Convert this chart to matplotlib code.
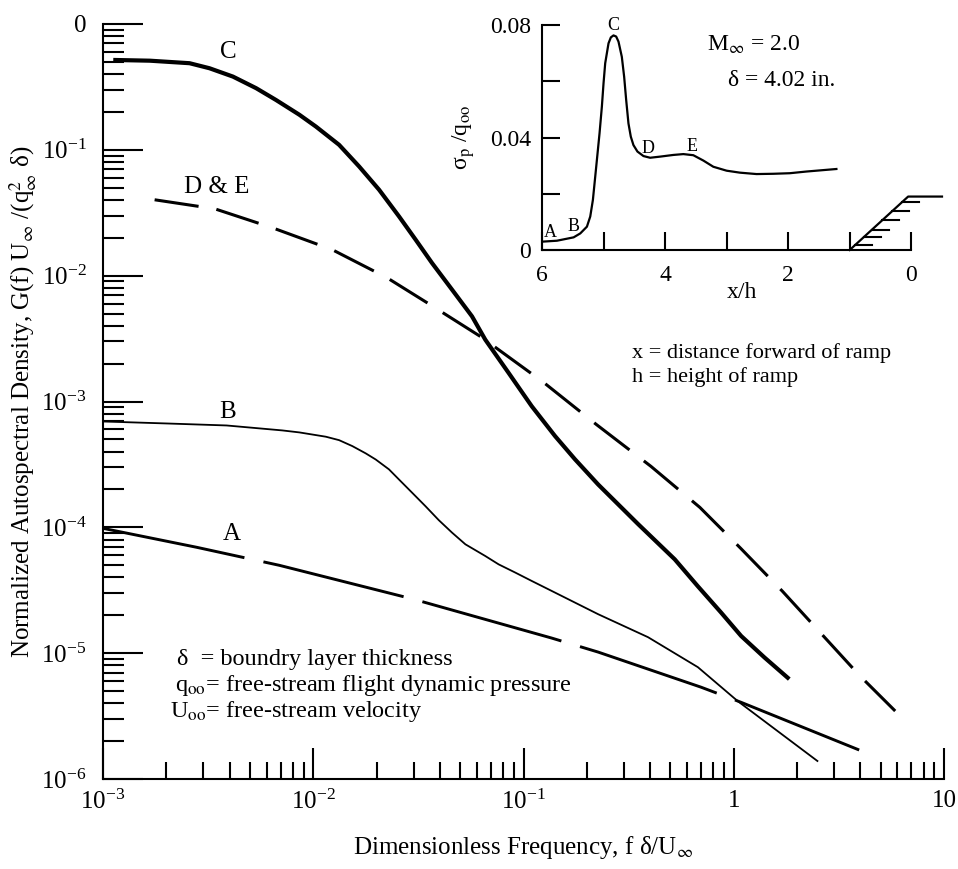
import matplotlib
matplotlib.use("Agg")
import matplotlib.pyplot as plt
from matplotlib.ticker import LogLocator, NullFormatter

# ---- main plot: normalized autospectral density vs. f*delta/U ----
# curve C (thick solid)
c_f = [0.001119, 0.00167, 0.00258, 0.00321, 0.00415, 0.00535, 0.00665, 0.00859, 0.0103,
       0.01327, 0.01652, 0.02056, 0.02557, 0.0307, 0.0367, 0.0457, 0.0569, 0.0658,
       0.0849, 0.1094, 0.1413, 0.1758, 0.2265, 0.351, 0.524, 0.675,
       0.871, 1.084, 1.400, 1.837]
c_g = [0.518, 0.511, 0.488, 0.445, 0.382, 0.309, 0.249, 0.190, 0.153,
       0.1096, 0.0738, 0.0482, 0.0296, 0.0193, 0.01262, 0.00775, 0.00475, 0.00310,
       0.00169, 9.18e-4, 5.31e-4, 3.47e-4, 2.19e-4, 1.06e-4, 5.57e-5, 3.40e-5,
       2.10e-5, 1.37e-5, 9.24e-6, 6.22e-6]

# curve D & E (dashed)
de_f = [0.00176, 0.0034, 0.0064, 0.0123, 0.0224, 0.0347, 0.0625, 0.1245,
        0.222, 0.404, 0.690, 1.079, 1.706, 2.70, 3.95, 5.86]
de_g = [0.0401, 0.0340, 0.0240, 0.0161, 0.00964, 0.00611, 0.00328, 0.00142,
        6.57e-4, 3.05e-4, 1.44e-4, 6.81e-5, 3.10e-5, 1.34e-5, 6.69e-6, 3.47e-6]

# curve B (thin solid)
b_f = [0.001, 0.00201, 0.00387, 0.00713, 0.00859, 0.01148, 0.01327, 0.01535, 0.01777,
       0.01982, 0.02291, 0.02557, 0.02957, 0.03421, 0.03955, 0.04571, 0.05292, 0.06577,
       0.07614, 0.09138, 0.1094, 0.1313, 0.2265, 0.391, 0.675, 1.044, 1.618, 2.50]
b_g = [6.94e-4, 6.69e-4, 6.45e-4, 5.89e-4, 5.68e-4, 5.25e-4, 4.93e-4, 4.42e-4, 3.87e-4,
       3.46e-4, 2.89e-4, 2.40e-4, 1.88e-4, 1.47e-4, 1.14e-4, 9.08e-5, 7.33e-5, 5.92e-5,
       5.08e-5, 4.37e-5, 3.75e-5, 3.22e-5, 2.04e-5, 1.34e-5, 7.74e-6, 4.16e-6, 2.40e-6, 1.39e-6]

# curve A (long dashes)
a_f = [0.001, 0.00279, 0.0069, 0.0301, 0.1358, 0.2265, 0.698, 1.079, 3.95]
a_g = [9.82e-5, 6.94e-5, 4.99e-5, 2.68e-5, 1.32e-5, 1.02e-5, 5.37e-6, 4.08e-6, 1.70e-6]

x_ticks = [1e-3, 1e-2, 1e-1, 1, 10]
x_labels = [r'$\mathregular{10^{-3}}$', r'$\mathregular{10^{-2}}$', r'$\mathregular{10^{-1}}$', '1', '10']
y_ticks = [1e-6, 1e-5, 1e-4, 1e-3, 1e-2, 1e-1, 1]
y_labels = [r'$\mathregular{10^{-6}}$', r'$\mathregular{10^{-5}}$', r'$\mathregular{10^{-4}}$',
            r'$\mathregular{10^{-3}}$', r'$\mathregular{10^{-2}}$', r'$\mathregular{10^{-1}}$', '0']

# ---- inset: sigma_p/q along the ramp ----
xh = [5.973, 5.757, 5.486, 5.378, 5.270, 5.216, 5.173, 5.119, 5.065, 5.027, 5.000,
      4.973, 4.919, 4.881, 4.838, 4.795, 4.757, 4.703, 4.665, 4.632, 4.595, 4.557,
      4.514, 4.449, 4.351, 4.243, 4.081, 3.865, 3.703, 3.541, 3.378, 3.216, 3.000,
      2.784, 2.514, 2.243, 1.973, 1.703, 1.216]
sig = [0.0030, 0.0033, 0.0045, 0.0059, 0.0083, 0.0119, 0.0178, 0.0296, 0.0415, 0.0510, 0.0593,
       0.0664, 0.0735, 0.0756, 0.0763, 0.0759, 0.0741, 0.0687, 0.0616, 0.0533, 0.0450, 0.0403,
       0.0373, 0.0350, 0.0334, 0.0328, 0.0332, 0.0338, 0.0341, 0.0337, 0.0318, 0.0296, 0.0282,
       0.0275, 0.0270, 0.0271, 0.0273, 0.0279, 0.0288]
pt_names = ['A', 'B', 'C', 'D', 'E']
pt_x = [5.86, 5.49, 4.84, 4.27, 3.57]
pt_y = [0.0062, 0.0085, 0.0797, 0.0360, 0.0367]

ramp_x = [1.0, 0.05, -0.5]
ramp_y = [0.0, 0.019, 0.019]
hatch_y = [0.0018, 0.0045, 0.0072, 0.0105, 0.0138, 0.0170]

plt.rcParams['font.family'] = ['Liberation Serif', 'DejaVu Serif']
plt.rcParams['mathtext.fontset'] = 'stix'
plt.rcParams['lines.scale_dashes'] = False

fig = plt.figure(figsize=(9.58, 8.69), dpi=100)
ax = fig.add_axes([103/958, 1-779/869, 841/958, 755/869])
ax.set_xscale('log')
ax.set_yscale('log')
ax.set_xlim(1e-3, 10)
ax.set_ylim(1e-6, 1)

ax.plot(c_f, c_g, color='k', lw=3.0, solid_capstyle='butt', solid_joinstyle='round')
ax.plot(de_f, de_g, color='k', lw=2.2, linestyle=(0, (32, 13)))
ax.plot(b_f, b_g, color='k', lw=1.3, solid_joinstyle='round')
ax.plot(a_f, a_g, color='k', lw=2.1, linestyle=(0, (104, 14)))

for s in ['top', 'right']:
    ax.spines[s].set_visible(False)
for s in ['left', 'bottom']:
    ax.spines[s].set_linewidth(1.5)

ax.xaxis.set_minor_locator(LogLocator(base=10, subs=range(2, 10), numticks=20))
ax.yaxis.set_minor_locator(LogLocator(base=10, subs=range(2, 10), numticks=20))
ax.xaxis.set_minor_formatter(NullFormatter())
ax.yaxis.set_minor_formatter(NullFormatter())
ax.set_xticks(x_ticks)
ax.set_xticklabels(x_labels)
ax.set_yticks(y_ticks)
ax.set_yticklabels(y_labels)
ax.tick_params(which='both', direction='in', width=1.5, labelsize=18)
ax.tick_params(axis='x', which='major', length=22, pad=8)
ax.tick_params(axis='x', which='minor', length=12)
ax.tick_params(axis='y', which='major', length=29, pad=12)
ax.tick_params(axis='y', which='minor', length=15)

ax.set_xlabel('Dimensionless Frequency, f δ/U$_\\infty$', fontsize=18, labelpad=14)
ax.set_ylabel('Normalized Autospectral Density, G(f) U$_\\infty$ /(q$^2_\\infty$ δ)',
              fontsize=18, labelpad=1)

ax.text(0.00395, 0.60, 'C', fontsize=18, ha='center', va='center')
ax.text(0.00347, 0.0508, 'D & E', fontsize=18, ha='center', va='center')
ax.text(0.00391, 8.2e-4, 'B', fontsize=18, ha='center', va='center')
ax.text(0.00408, 8.8e-5, 'A', fontsize=18, ha='center', va='center')

fig.text(177/958, 1-659/869, 'δ  = boundry layer thickness', fontsize=17.5, va='center')
fig.text(175/958, 1-686/869, 'q$_{\\mathrm{oo}}$= free-stream flight dynamic pressure', fontsize=17.5, va='center')
fig.text(170/958, 1-712/869, 'U$_{\\mathrm{oo}}$= free-stream velocity', fontsize=17.5, va='center')
fig.text(632/958, 1-353/869, 'x = distance forward of ramp', fontsize=16, va='center')
fig.text(632/958, 1-377/869, 'h = height of ramp', fontsize=16, va='center')

# inset
ins = fig.add_axes([542/958, 1-250/869, 400/958, 225/869])
ins.set_facecolor('none')
ins.set_xlim(6, -0.5)
ins.set_ylim(0, 0.08)
ins.plot(xh, sig, color='k', lw=1.6, solid_joinstyle='round')
ins.plot(ramp_x, ramp_y, color='k', lw=1.6, clip_on=False)
for hy in hatch_y:
    hx = ramp_x[0] + (ramp_x[1] - ramp_x[0]) * hy / ramp_y[1]
    ins.plot([hx, hx - 0.28], [hy, hy], color='k', lw=1.5)
for name, px, py in zip(pt_names, pt_x, pt_y):
    ins.text(px, py, name, fontsize=13, ha='center', va='center')
ins.text(3.32, 0.0729, 'M$_\\infty$ = 2.0', fontsize=17, va='center')
ins.text(2.97, 0.0604, 'δ = 4.02 in.', fontsize=17, va='center')

for s in ['top', 'right']:
    ins.spines[s].set_visible(False)
for s in ['left', 'bottom']:
    ins.spines[s].set_linewidth(1.5)
ins.spines['bottom'].set_bounds(6, 0)
ins.set_xticks([6, 5, 4, 3, 2, 1, 0])
ins.set_xticklabels(['6', '', '4', '', '2', '', '0'])
ins.set_yticks([0, 0.02, 0.04, 0.06, 0.08])
ins.set_yticklabels(['0', '', '0.04', '', '0.08'])
ins.tick_params(direction='in', width=1.5, length=13, labelsize=17)
ins.tick_params(axis='x', pad=11)
ins.tick_params(axis='y', pad=8)
ins.set_xlabel('x/h', fontsize=17, labelpad=-3)
ins.set_ylabel('σ$_\\mathrm{p}$ /q$_{\\mathrm{oo}}$', fontsize=17, labelpad=9)

fig.savefig('out.png', dpi=100)
